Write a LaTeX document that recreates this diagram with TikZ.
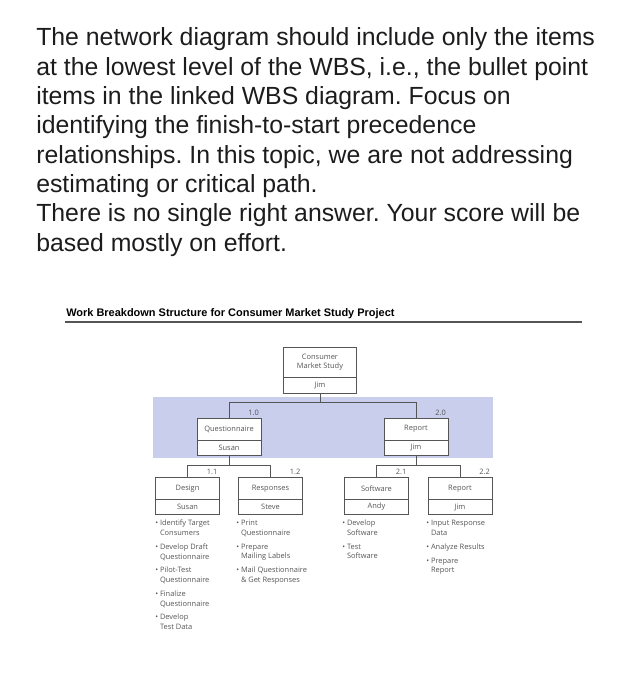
\documentclass[tikz,border=0pt]{standalone}
\usepackage{fontspec}
\setmainfont{Liberation Sans}
\newfontfamily\wbsfont{Open Sans}
\usetikzlibrary{positioning}

\definecolor{wbsband}{RGB}{200,206,236}
\definecolor{wbsgray}{RGB}{85,85,85}
\definecolor{inkdark}{RGB}{28,28,30}

% one bullet item over two lines
\newcommand{\wbsitem}[2]{\textbullet\ #1\\\hphantom{\textbullet\ }#2}

\begin{document}
\begin{tikzpicture}[
  x=0.025cm, y=-0.025cm,
  font=\wbsfont\fontsize{5.3}{6.8}\selectfont,
  taskbox/.style={rectangle, draw=wbsgray, fill=white, text=wbsgray, inner sep=0pt,
                  minimum width=1.6cm, minimum height=0.55cm},
  ownerbox/.style={rectangle, draw=wbsgray, fill=white, text=wbsgray, inner sep=0pt,
                   minimum width=1.6cm, minimum height=0.375cm},
  wbsnum/.style={anchor=south east, inner sep=1.5pt, text=wbsgray},
  wbslist/.style={anchor=north west, align=left, inner sep=0pt, text=wbsgray},
  wbsline/.style={draw=wbsgray, line width=0.7pt},
]
\useasboundingbox (0,0) rectangle (638,700);

% ================= TEXT =================
\node[anchor=base west, align=left, inner sep=0pt, text=inkdark,
      font=\rmfamily\frenchspacing\fontsize{17.65}{20.85}\selectfont] (prompt) at (36,251)
  {The network diagram should include only the items\\
   at the lowest level of the WBS, i.e., the bullet point\\
   items in the linked WBS diagram. Focus on\\
   identifying the finish-to-start precedence\\
   relationships. In this topic, we are not addressing\\
   estimating or critical path.\\
   There is no single right answer. Your score will be\\
   based mostly on effort.};

\node[anchor=base west, inner sep=0pt, text=black,
      font=\rmfamily\bfseries\fontsize{7.8}{9}\selectfont] (title) at (66,316)
  {Work Breakdown Structure for Consumer Market Study Project};
\draw[wbsline, line width=0.9pt] (65,322) -- (582,322);

% ================= BAND =================
\fill[wbsband] (153,397) rectangle (493,458);

% ================= NODES =================
\node[taskbox, minimum width=1.825cm, minimum height=0.75cm, align=center] (cms) at (320,362) {Consumer\\Market Study};
\node[ownerbox, minimum width=1.825cm, minimum height=0.4cm] (cmsjim) at (320,385) {Jim};

\node[taskbox]  (quest)      at (229,429)   {Questionnaire};
\node[ownerbox] (questsusan) at (229,447.5) {Susan};
\node[taskbox]  (report)     at (416,429)   {Report};
\node[ownerbox] (reportjim)  at (416,447.5) {Jim};

\node[taskbox]  (design)      at (187.5,488.5) {Design};
\node[ownerbox] (designsusan) at (187.5,507)   {Susan};
\node[taskbox]  (resp)        at (270.5,488.5) {Responses};
\node[ownerbox] (respsteve)   at (270.5,507)   {Steve};
\node[taskbox]  (soft)        at (376.5,488.5) {Software};
\node[ownerbox] (softandy)    at (376.5,507)   {Andy};
\node[taskbox]  (rep)         at (460,488.5)   {Report};
\node[ownerbox] (repjim)      at (460,507)     {Jim};

\node[wbsnum] at (quest.north east)  {1.0};
\node[wbsnum] at (report.north east) {2.0};
\node[wbsnum] at (design.north east) {1.1};
\node[wbsnum] at (resp.north east)   {1.2};
\node[wbsnum] at (soft.north east)   {2.1};
\node[wbsnum] at (rep.north east)    {2.2};

% ================= LISTS =================
\node[wbslist] (designlist) at (155,520) {%
  \wbsitem{Identify Target}{Consumers}\\[3.1pt]
  \wbsitem{Develop Draft}{Questionnaire}\\[3.1pt]
  \wbsitem{Pilot-Test}{Questionnaire}\\[3.1pt]
  \wbsitem{Finalize}{Questionnaire}\\[3.1pt]
  \wbsitem{Develop}{Test Data}};
\node[wbslist] (resplist) at (236,520) {%
  \wbsitem{Print}{Questionnaire}\\[3.1pt]
  \wbsitem{Prepare}{Mailing Labels}\\[3.1pt]
  \wbsitem{Mail Questionnaire}{\& Get Responses}};
\node[wbslist] (softlist) at (342,520) {%
  \wbsitem{Develop}{Software}\\[3.1pt]
  \wbsitem{Test}{Software}};
\node[wbslist] (replist) at (426,520) {%
  \wbsitem{Input Response}{Data}\\[3.1pt]
  \textbullet\ Analyze Results\\[3.1pt]
  \wbsitem{Prepare}{Report}};

% ================= EDGES =================
\coordinate (bus0) at (320,402);
\coordinate (bus1) at (229,465);
\coordinate (bus2) at (416,465);

\draw[wbsline] (cmsjim.south) -- (bus0);
\draw[wbsline] (bus0) -| (quest.north);
\draw[wbsline] (bus0) -| (report.north);

\draw[wbsline] (questsusan.south) -- (bus1);
\draw[wbsline] (bus1) -| (design.north);
\draw[wbsline] (bus1) -| (resp.north);

\draw[wbsline] (reportjim.south) -- (bus2);
\draw[wbsline] (bus2) -| (soft.north);
\draw[wbsline] (bus2) -| (rep.north);

\end{tikzpicture}
\end{document}
